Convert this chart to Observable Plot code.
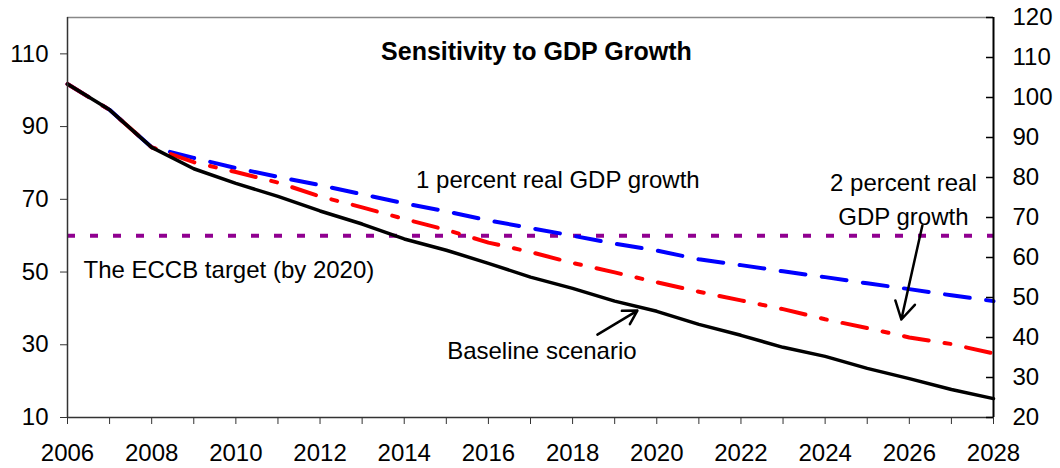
<!DOCTYPE html>
<html><head><meta charset="utf-8">
<script src="https://cdn.jsdelivr.net/npm/d3@7"></script>
<script src="https://cdn.jsdelivr.net/npm/@observablehq/plot@0.6"></script>
<style>body{margin:0;background:#fff;}</style>
</head><body><div id="chart"></div>
<script>
const years = [2006,2007,2008,2009,2010,2011,2012,2013,2014,2015,2016,2017,2018,2019,2020,2021,2022,2023,2024,2025,2026,2027,2028];
const baseline   = [101.7,94.6,84.3,78.4,74.4,70.8,66.8,63.2,59.1,56.0,52.4,48.6,45.5,42.0,39.2,35.6,32.6,29.3,26.8,23.5,20.7,17.7,15.2];
const onePercent = [101.7,94.6,84.3,81.4,78.6,76.2,73.9,71.4,68.9,66.7,64.2,62.1,60.0,57.8,55.9,53.5,51.9,50.2,48.6,46.9,45.3,43.6,42.0];
const twoPercent = [101.7,94.6,84.3,80.2,77.5,74.6,70.8,67.8,64.6,61.6,58.1,55.5,52.5,49.9,47.2,44.6,42.2,39.8,37.0,34.6,32.0,30.2,27.6];
const eccbTarget = 60;
const leftTicks = [10,30,50,70,90,110];
const rightTicks = [20,30,40,50,60,70,80,90,100,110,120];
const xLabelYears = [2006,2008,2010,2012,2014,2016,2018,2020,2022,2024,2026,2028];
const titleText = "Sensitivity to GDP Growth";
const onePctLabel = "1 percent real GDP growth";
const twoPctLabel = "2 percent real\nGDP growth";
const targetLabel = "The ECCB target (by 2020)";
const baselineLabel = "Baseline scenario";

const rows = (arr) => years.map((year, i) => ({year, value: arr[i]}));
// right axis (20..120) shares the pixel range of the left axis (10..120)
const rightToLeft = r => 10 + (r - 20) * 110 / 100;
const rightPos = rightTicks.map(rightToLeft);
const rightLabel = new Map(rightTicks.map(r => [rightToLeft(r), String(r)]));

const chart = Plot.plot({
  width: 1060, height: 468,
  marginLeft: 67, marginRight: 67, marginTop: 17, marginBottom: 51,
  style: {fontFamily: "'Liberation Sans', Arial, sans-serif", fontSize: "24px", color: "#000", background: "#fff"},
  x: {domain: [2006, 2028]},
  y: {domain: [10, 120]},
  marks: [
    Plot.ruleY([eccbTarget], {stroke: "#900090", strokeWidth: 4, strokeDasharray: "8,15"}),
    Plot.line(rows(onePercent), {x: "year", y: "value", stroke: "#0000ff", strokeWidth: 4, strokeDasharray: "25,16.5"}),
    Plot.line(rows(twoPercent), {x: "year", y: "value", stroke: "#ff0000", strokeWidth: 4, strokeDasharray: "25,16,6,16"}),
    Plot.line(rows(baseline), {x: "year", y: "value", stroke: "#000", strokeWidth: 3.5}),
    Plot.arrow([{x1: 2018.59, y1: 32.8, x2: 2019.54, y2: 39.4}], {x1: "x1", y1: "y1", x2: "x2", y2: "y2", stroke: "#000", strokeWidth: 2.5, headLength: 12}),
    Plot.arrow([{x1: 2026.31, y1: 62.8, x2: 2025.81, y2: 36.95}], {x1: "x1", y1: "y1", x2: "x2", y2: "y2", stroke: "#000", strokeWidth: 2.5, headLength: 12}),
    Plot.text([titleText], {x: 2017.14, y: 110.4, text: d => d, fontWeight: "bold", fontSize: 25, fill: "#000"}),
    Plot.text([onePctLabel], {x: 2017.65, y: 75.1, text: d => d, fontSize: 24, fill: "#000"}),
    Plot.text([twoPctLabel], {x: 2025.86, y: 70.7, text: d => d, fontSize: 24, lineHeight: 1.42, fill: "#000"}),
    Plot.text([targetLabel], {x: 2006.38, y: 50.6, text: d => d, fontSize: 24, textAnchor: "start", fill: "#000"}),
    Plot.text([baselineLabel], {x: 2017.27, y: 28.3, text: d => d, fontSize: 24, fill: "#000"}),
    Plot.ruleY([120], {stroke: "#888", strokeWidth: 1.5}),
    Plot.ruleX([2006], {stroke: "#333", strokeWidth: 1.5}),
    Plot.ruleY([10], {stroke: "#333", strokeWidth: 1.5}),
    Plot.ruleX([2028], {stroke: "#000", strokeWidth: 2}),
    Plot.axisX({ticks: years, tickSize: 7, tickPadding: 19, stroke: "#333",
      tickFormat: d => xLabelYears.includes(d) ? String(d) : ""}),
    Plot.axisY({anchor: "left", ticks: leftTicks, tickSize: 7, tickPadding: 12, stroke: "#333",
      tickFormat: d => String(d)}),
    Plot.tickY(rightPos, {y: d => d, stroke: "#000", strokeWidth: 1.5, insetLeft: 919}),
    Plot.axisY({anchor: "right", ticks: rightPos, tickSize: 0, tickPadding: 19,
      tickFormat: d => rightLabel.get(d)})
  ]
});
document.getElementById("chart").appendChild(chart);
</script>
</body></html>
